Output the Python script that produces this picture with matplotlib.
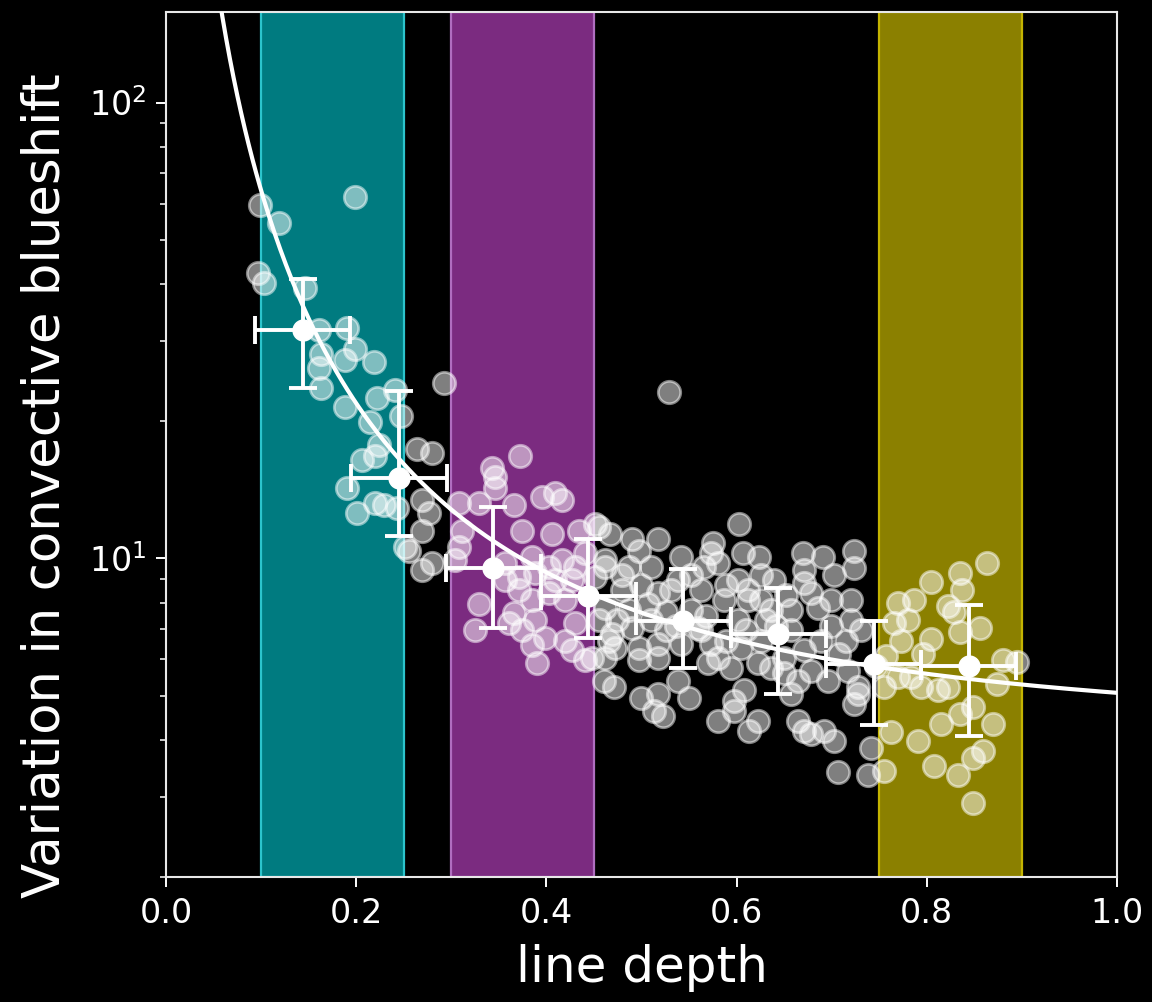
import numpy as np
import matplotlib
matplotlib.use("Agg")
import matplotlib.pyplot as plt
from matplotlib.ticker import LogLocator, NullFormatter, FixedLocator

# Individual spectral lines: depth vs. variation in convective blueshift
depth = [
    0.0985, 0.1184, 0.1992, 0.0964, 0.1027, 0.1457, 0.1604, 0.1908, 0.1625, 0.1992,
    0.1887, 0.2191, 0.1604, 0.1625, 0.2925, 0.2222, 0.2411, 0.1887, 0.2149, 0.2474,
    0.2243, 0.2201, 0.2065, 0.1908, 0.2013, 0.2201, 0.2296, 0.2432, 0.2516, 0.5294,
    0.2642, 0.2799, 0.2694, 0.2767, 0.2694, 0.2558, 0.2694, 0.2799,
    0.3082, 0.3113, 0.3082, 0.3040, 0.3291, 0.3459, 0.3459, 0.3428, 0.3721, 0.3658,
    0.3742, 0.3952, 0.4088, 0.4161, 0.4057, 0.3847, 0.3564, 0.3564, 0.3711, 0.3878,
    0.4025, 0.4161, 0.4298, 0.4266, 0.4088, 0.4025, 0.4193, 0.3847, 0.3711, 0.3291,
    0.3249, 0.3658, 0.3742, 0.3878, 0.3983, 0.3847, 0.3899, 0.4193, 0.4298, 0.4403,
    0.4340, 0.4507, 0.4403, 0.4507, 0.4266, 0.4476, 0.3606,
    0.4612, 0.4549, 0.4602, 0.4706, 0.4654, 0.5000, 0.5136, 0.4549, 0.4665, 0.4895,
    0.5178, 0.4969, 0.5755, 0.5734, 0.5419, 0.6069, 0.6237, 0.6698, 0.6908, 0.7233,
    0.7233, 0.6709, 0.7023, 0.6027, 0.4612, 0.4864, 0.5105, 0.5660, 0.5807, 0.5388,
    0.5314, 0.5178, 0.6017, 0.6122, 0.6394, 0.6709, 0.6782, 0.7201, 0.7201, 0.6855,
    0.6572, 0.4790, 0.4612, 0.4864, 0.5073, 0.5105, 0.4895, 0.4686, 0.4717, 0.4612,
    0.4969, 0.4969, 0.5178, 0.5178, 0.5419, 0.5597, 0.5870, 0.6122, 0.6017, 0.5734,
    0.5807, 0.5943, 0.5702, 0.6048, 0.6258, 0.6226, 0.6363, 0.6499, 0.6709, 0.6782,
    0.6646, 0.6572, 0.6499, 0.6960, 0.7075, 0.7170, 0.7275, 0.7233, 0.5178, 0.5231,
    0.5503, 0.5388, 0.5975, 0.5975, 0.6080, 0.5807, 0.6132, 0.6226, 0.6646, 0.6782,
    0.6918, 0.7023, 0.6709, 0.7065, 0.7379, 0.5524, 0.5681, 0.6310, 0.6415, 0.6992,
    0.7149, 0.5629, 0.6258, 0.5262, 0.5367,
    0.4790, 0.5000, 0.5524, 0.5891, 0.6258, 0.6520, 0.6992, 0.5629, 0.5891, 0.6363,
    0.6887, 0.7306, 0.4738, 0.5262, 0.6101, 0.6572,
    0.8637, 0.8354, 0.8040, 0.8375, 0.7694, 0.7862, 0.8218, 0.8281, 0.7799, 0.7652,
    0.8564, 0.8354, 0.8040, 0.7725, 0.7956, 0.8805, 0.8952, 0.7694, 0.7830, 0.7935,
    0.8113, 0.8218, 0.8742, 0.8491, 0.8354, 0.8145, 0.8700, 0.7621, 0.7904, 0.7411,
    0.8595, 0.8491, 0.8071, 0.8323, 0.7547, 0.8491, 0.7547, 0.7463, 0.7568, 0.7275,
]
variation = [
    59.7, 54.5, 62.1, 42.3, 40.2, 39.2, 31.7, 32.0, 28.1, 28.8,
    27.2, 27.0, 26.2, 23.6, 24.2, 22.5, 23.4, 21.5, 19.9, 20.5,
    17.7, 16.8, 16.4, 14.3, 12.6, 13.2, 13.1, 12.9, 10.6, 23.2,
    17.4, 17.0, 13.4, 12.6, 11.5, 10.4, 9.41, 9.75,
    13.2, 11.5, 10.6, 9.90, 13.2, 15.1, 14.3, 15.8, 16.8, 13.1,
    11.5, 13.6, 13.9, 13.4, 11.3, 10.05, 9.75, 8.95, 9.08, 9.27,
    9.56, 9.90, 9.56, 8.95, 8.95, 8.38, 8.09, 8.09, 8.51, 7.96,
    6.95, 7.57, 6.95, 7.31, 6.70, 6.44, 5.88, 6.60, 7.20, 5.97,
    11.5, 11.9, 10.3, 9.08, 6.28, 6.06, 7.20,
    9.90, 7.31, 5.39, 5.21, 6.60, 4.95, 4.63, 11.7, 11.3, 11.0,
    11.0, 10.4, 10.8, 10.3, 10.05, 10.3, 10.05, 10.3, 10.05, 10.4,
    9.51, 9.41, 9.18, 11.9, 9.56, 9.56, 9.56, 9.56, 9.75, 8.95,
    8.51, 8.38, 8.95, 8.51, 8.95, 8.81, 8.38, 8.09, 7.31, 7.80,
    7.69, 8.51, 7.80, 7.69, 7.96, 7.31, 7.05, 6.84, 6.37, 6.06,
    6.37, 5.97, 6.50, 6.06, 6.50, 7.05, 8.09, 8.09, 7.31, 6.50,
    6.06, 5.76, 5.88, 6.37, 6.60, 5.88, 5.76, 6.06, 6.28, 5.67,
    5.39, 5.05, 5.59, 5.39, 6.18, 5.67, 5.05, 4.80, 5.05, 4.52,
    4.95, 5.39, 4.87, 4.63, 5.13, 4.40, 4.19, 4.40, 4.40, 4.12,
    4.19, 3.98, 4.19, 3.39, 3.34, 7.69, 7.49, 7.31, 7.12, 7.12,
    6.60, 8.51, 8.09, 7.61, 7.12,
    9.18, 8.72, 9.18, 8.72, 9.18, 8.29, 8.09, 6.95, 6.60, 7.69,
    6.60, 6.95, 7.31, 6.95, 6.95, 6.95,
    9.75, 9.27, 8.86, 8.51, 8.00, 8.09, 7.88, 7.61, 7.31, 7.20,
    7.05, 6.88, 6.67, 6.60, 6.18, 5.97, 5.91, 5.48, 5.48, 5.21,
    5.13, 5.21, 5.31, 4.71, 4.56, 4.34, 4.34, 4.15, 3.98, 3.84,
    3.78, 3.65, 3.51, 3.34, 3.42, 2.91, 5.21, 5.82, 6.12, 5.21,
]

# Binned means in line depth with spread
bin_depth = [0.144, 0.245, 0.344, 0.444, 0.544, 0.644, 0.744, 0.844]
bin_mean = [31.7, 15.0, 9.53, 8.25, 7.3, 6.84, 5.87, 5.82]
bin_upper = [41.1, 23.3, 12.95, 11.0, 9.5, 8.63, 7.3, 7.9]
bin_lower = [23.6, 11.2, 7.05, 6.7, 5.76, 5.05, 4.30, 4.08]
bin_halfwidth = [0.05, 0.05, 0.05, 0.05, 0.05, 0.05, 0.05, 0.05]

# Power-law fit: A * depth**(-p) + C
fit_A, fit_p, fit_C = 1.07, 1.75, 4.0

# Highlighted depth ranges
band_edges = [(0.10, 0.25), (0.30, 0.45), (0.75, 0.90)]
band_faces = ["#007b80", "#7b2b80", "#8b8000"]
band_lines = ["#2cc4cc", "#b06ec0", "#c4b400"]

fig = plt.figure(figsize=(11.52, 10.02), dpi=100, facecolor="black")
ax = fig.add_axes([0.1441, 0.1248, 0.8255, 0.8632])
ax.set_facecolor("black")

for (lo, hi), fc, ec in zip(band_edges, band_faces, band_lines):
    ax.axvspan(lo, hi, facecolor=fc, edgecolor=ec, linewidth=1.6, zorder=0)

ax.scatter(depth, variation, s=260, facecolor="white", edgecolor="white",
           linewidth=2.0, alpha=0.5, zorder=2)

xs = np.linspace(0.02, 1.0, 500)
ax.plot(xs, fit_A * xs ** (-fit_p) + fit_C, color="white", lw=3.0, zorder=3)

yerr = [np.array(bin_mean) - np.array(bin_lower),
        np.array(bin_upper) - np.array(bin_mean)]
ax.errorbar(bin_depth, bin_mean, xerr=bin_halfwidth, yerr=yerr, fmt="o",
            color="white", ms=15, elinewidth=2.8, capsize=10, capthick=2.8,
            zorder=4)

ax.set_yscale("log")
ax.set_xlim(0, 1)
ax.set_ylim(2.0, 158)
ax.xaxis.set_major_locator(FixedLocator([0.0, 0.2, 0.4, 0.6, 0.8, 1.0]))
ax.yaxis.set_major_locator(LogLocator(base=10))
ax.yaxis.set_minor_locator(LogLocator(base=10, subs=np.arange(2, 10)))
ax.yaxis.set_minor_formatter(NullFormatter())

for sp in ax.spines.values():
    sp.set_color("#e8e8e8")
    sp.set_linewidth(1.5)
ax.tick_params(which="major", length=7.2, width=1.4, colors="white",
               labelsize=24, pad=7)
ax.tick_params(which="minor", length=4.2, width=1.1, colors="white")

ax.set_xlabel("line depth", color="white", fontsize=36, labelpad=10)
ax.set_ylabel("Variation in convective blueshift", color="white",
              fontsize=37)
ax.yaxis.set_label_coords(-0.100, 0.453)

fig.savefig("out.png", dpi=100, facecolor="black")
